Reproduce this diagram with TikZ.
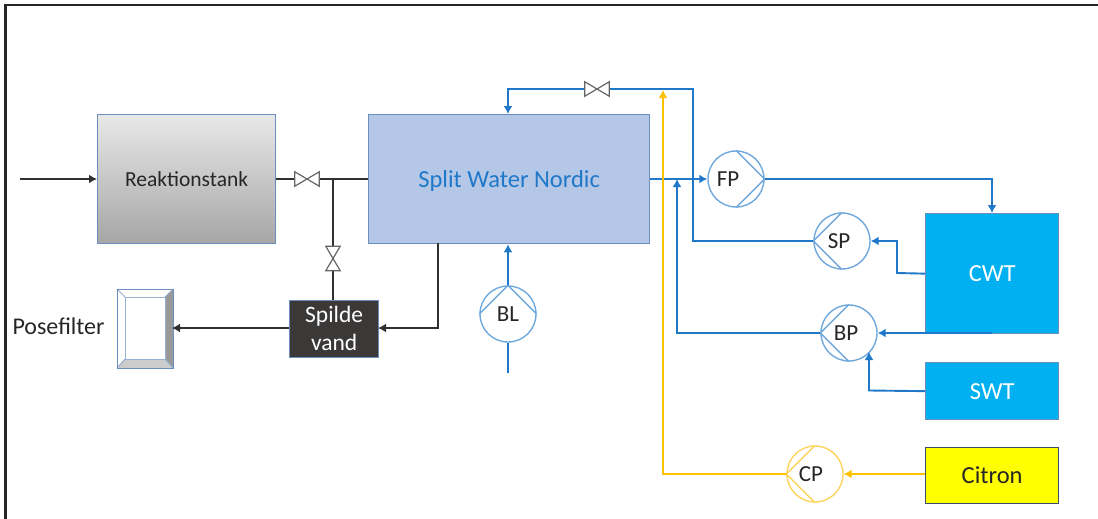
\documentclass[tikz,border=0pt]{standalone}
\usepackage{fontspec}
\setmainfont{Carlito}
\usetikzlibrary{arrows.meta}
\definecolor{pipeblue}{HTML}{1F78C8}
\definecolor{pipeyellow}{HTML}{FFC000}
\definecolor{ringyellow}{HTML}{FFD45E}
\definecolor{pipeblack}{HTML}{303030}
\definecolor{ringblue}{HTML}{6FA8DC}
\definecolor{edgeblue}{HTML}{6C8EBF}
\definecolor{lemon}{HTML}{FFFF00}
\definecolor{skyfill}{HTML}{00B0F0}
\definecolor{splitfill}{HTML}{B4C7E7}
\definecolor{wastefill}{HTML}{3B3838}
\definecolor{inktext}{HTML}{262626}
\tikzset{
  lbl/.style={font=\fontsize{24.5}{28}\selectfont,text=inktext},
  tank/.style={draw=edgeblue,line width=1.3pt,lbl,inner sep=0pt,align=center,anchor=north west},
  tip/.style={-{Latex[length=8pt,width=9pt]}},
  pipe/.style={line width=1.9pt,draw=pipeblue},
  blackpipe/.style={line width=1.9pt,draw=pipeblack},
  yellowpipe/.style={line width=1.9pt,draw=pipeyellow},
  pump/.style={circle,draw=#1,line width=1.4pt,minimum size=56pt,inner sep=0pt,lbl,font=\fontsize{23}{28}\selectfont,fill=white},
  chevron/.style={draw=#1,line width=1.4pt},
  valve/.style={minimum width=24pt,minimum height=14pt,inner sep=0pt},
  bowtie/.style={draw=black!60,line width=1.2pt,fill=white},
}
\begin{document}
\begin{tikzpicture}[x=1pt,y=-1pt]
\useasboundingbox (0,0) rectangle (1098,519);
% frame
\coordinate (fa) at (5.5,519);
\coordinate (fb) at (5.5,5);
\coordinate (fc) at (1098,5);
\draw[line width=2.6pt,draw=black!85] (fa) -- (fb) -- (fc);

% tanks
\node[tank,minimum width=178pt,minimum height=129pt,top color=black!9,bottom color=black!35,font=\fontsize{21.5}{28}\selectfont] (reak) at (97,114) {Reaktionstank};
\node[tank,minimum width=281pt,minimum height=129pt,fill=splitfill,text=pipeblue,text depth=0pt] (split) at (368,114) {Split Water Nordic};
\node[tank,minimum width=89pt,minimum height=57pt,fill=wastefill,text=white,font=\fontsize{23.5}{28}\selectfont] (spilde) at (289,299.5) {Spilde\\vand};
\node[tank,minimum width=133pt,minimum height=120pt,fill=skyfill,text=white] (cwt) at (925,213) {CWT};
\node[tank,minimum width=133pt,minimum height=57pt,fill=skyfill,text=white] (swt) at (925,362) {SWT};
\node[tank,minimum width=133pt,minimum height=56pt,fill=lemon,draw=black!45!edgeblue] (citron) at (925,447) {Citron};

% Posefilter
\node[lbl,anchor=west,font=\fontsize{24}{28}\selectfont] (poselbl) at (9,326) {Posefilter};
\node[draw=edgeblue,line width=1pt,fill=white,minimum width=55pt,minimum height=78pt,inner sep=0pt,anchor=north west] (pose) at (117,289) {};
\fill[black!40] (pose.north east) -- (165,297) -- (165,359) -- (pose.south east) -- cycle;
\fill[black!20] (pose.south east) -- (165,359) -- (125,359) -- (pose.south west) -- cycle;
\draw[draw=edgeblue!70,line width=1pt] (125,297) rectangle (165,359);
\draw[draw=edgeblue!70,line width=1pt] (pose.north west) -- (125,297) (pose.north east) -- (165,297) (pose.south west) -- (125,359) (pose.south east) -- (165,359);
\draw[draw=edgeblue,line width=1pt] (pose.north west) rectangle (pose.south east);

% pumps
\node[pump=ringblue] (fp) at (736,179) {\kern-16pt FP};
\draw[chevron=ringblue] (fp.north) -- (fp.east) -- (fp.south);
\node[pump=ringblue] (sp) at (842,241) {\kern-6pt SP};
\draw[chevron=ringblue] (sp.north) -- (sp.west) -- (sp.south);
\node[pump=ringblue] (bp) at (849,333) {\kern-6pt BP};
\draw[chevron=ringblue] (bp.north) -- (bp.west) -- (bp.south);
\node[pump=ringyellow] (cp) at (815,474) {\kern-8pt CP};
\draw[chevron=ringyellow] (cp.north) -- (cp.west) -- (cp.south);
\node[pump=ringblue] (bl) at (508,314) {BL};
\draw[chevron=ringblue] (bl.west) -- (bl.north) -- (bl.east);

% helper points
\coordinate (j1) at (333,179);
\coordinate (in) at (20,179);
\coordinate (blin) at (508,373);
\coordinate (up1) at (677,179);
\coordinate (up2) at (663,90);
\coordinate (cwtb) at (992,333);

% valves
\node[valve] (v1) at (307,179) {};
\node[valve,rotate=90] (v2) at (333,258.5) {};
\node[valve] (v3) at (597,89) {};

% black pipes
\draw[blackpipe,tip] (in) -- (in -| reak.west);
\draw[blackpipe] (v1.west -| reak.east) -- (v1.west);
\draw[blackpipe] (v1.east) -- (j1) -- (j1 -| split.west);
\draw[blackpipe] (j1) -- (v2.east);
\draw[blackpipe] (v2.west) -- (v2.west |- spilde.north);
\draw[blackpipe,tip] (438,243) -- (438,328) -- (378,328);
\draw[blackpipe,tip] (289,328) -- (172,328);

% blue pipes
\draw[pipe] (blin) -- (bl.south);
\draw[pipe,tip] (bl.north) -- (bl.north |- split.south);
\draw[pipe,tip] (fp.west -| split.east) -- (fp.west);
\draw[pipe,tip] (bp.west) -- (up1 |- bp.west) -- (up1);
\draw[pipe] (sp.west) -- (693,241) -- (693,89) -- (v3.east);
\draw[pipe,tip] (v3.west) -- (508,89) -- (508,114);
\draw[pipe,tip] (fp.east) -- (992,179) -- (992,213);
\draw[pipe,tip] (cwt.west) -- (897,273) -- (897,241) -- (sp.east);
\draw[pipe,tip] (cwtb) -- (bp.east);
\draw[pipe,tip] (swt.west) -- (869,390.5) -- (869,352);

% yellow pipes
\draw[yellowpipe,tip] (cp.east -| citron.west) -- (cp.east);
\draw[yellowpipe,tip] (cp.west) -- (663,474) -- (up2);

% valve bodies
\draw[bowtie] (v1.north west) -- (v1.south east) -- (v1.north east) -- (v1.south west) -- cycle;
\draw[bowtie] (v2.north west) -- (v2.south east) -- (v2.north east) -- (v2.south west) -- cycle;
\draw[bowtie] (v3.north west) -- (v3.south east) -- (v3.north east) -- (v3.south west) -- cycle;
\end{tikzpicture}
\end{document}
